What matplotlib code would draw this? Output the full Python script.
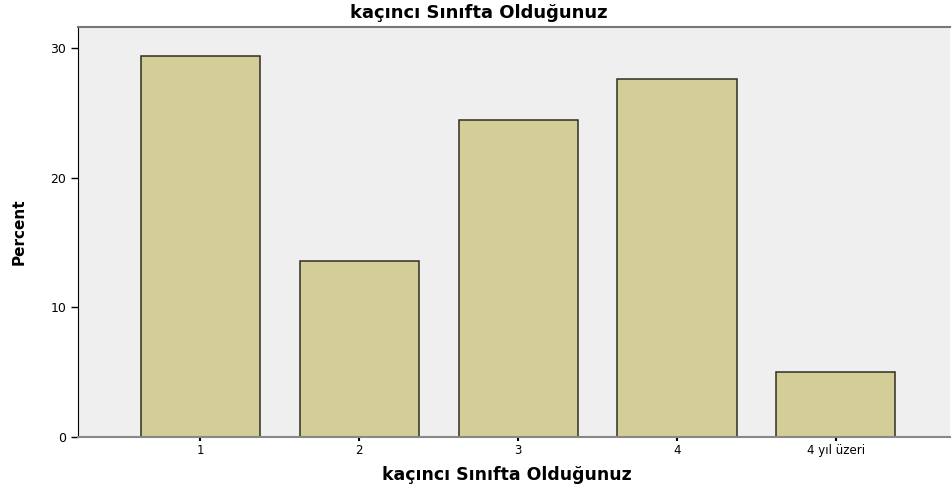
import matplotlib
matplotlib.use('Agg')
import matplotlib.pyplot as plt

categories = ["1", "2", "3", "4", "4 yıl üzeri"]
percent = [29.4, 13.6, 24.4, 27.6, 5.0]
y_ticks = [0, 10, 20, 30]

plt.rcParams['font.family'] = ['DejaVu Sans']

fig = plt.figure(figsize=(9.53, 4.9), dpi=100)
ax = fig.add_axes([0.082, 0.108, 0.915, 0.837])
ax.set_facecolor('#efefef')

x = range(len(categories))
ax.bar(x, percent, width=0.75, color='#d3ce97', edgecolor='#2e2e22', linewidth=1.1, zorder=2)

ax.set_xlim(-0.77, 4.72)
ax.set_ylim(0, 31.6)
ax.set_xticks(list(x))
ax.set_xticklabels(categories, fontsize=8.5)
ax.set_yticks(y_ticks)
ax.tick_params(axis='y', labelsize=9, length=5, width=1, direction='out')
ax.tick_params(axis='x', length=6, width=1.5, direction='inout', pad=2)

ax.spines['right'].set_visible(False)
ax.spines['top'].set_color('#777777')
ax.spines['top'].set_linewidth(1.5)
ax.spines['left'].set_color('black')
ax.spines['bottom'].set_color('#888888')
ax.spines['bottom'].set_linewidth(1.5)

# title sits centred on the figure, not the axes
fig.text(0.502, 0.973, "kaçıncı Sınıfta Olduğunuz", fontsize=13, fontweight='bold',
         ha='center', va='center')
ax.set_xlabel("kaçıncı Sınıfta Olduğunuz", fontsize=12.5, fontweight='bold')
ax.xaxis.set_label_coords(0.492, -0.07)
ax.set_ylabel("Percent", fontsize=11, fontweight='bold', labelpad=17)

fig.savefig('out.png', dpi=100)
